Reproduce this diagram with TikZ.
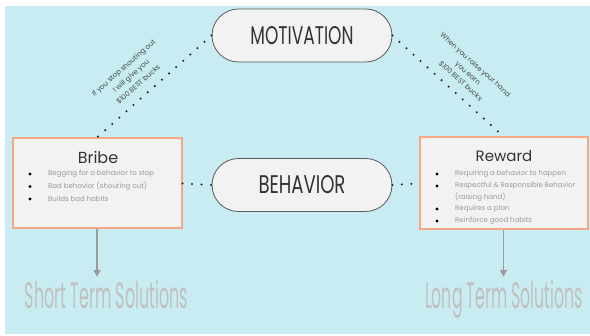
\documentclass[tikz,border=0pt]{standalone}
\usepackage{fontspec}
\setmainfont{Poppins}
\usetikzlibrary{shapes.misc,arrows.meta}
\definecolor{bg}{HTML}{C8ECF1}
\definecolor{boxfill}{HTML}{F2F2F2}
\definecolor{boxedge}{HTML}{F4A886}
\definecolor{pilledge}{HTML}{5A5A5A}
\definecolor{bultext}{HTML}{9A9A9A}
\definecolor{bigtext}{HTML}{C0C0C0}
\definecolor{arrowc}{HTML}{9B9B9B}
\definecolor{labtext}{HTML}{4A4A4A}
\begin{document}
\begin{tikzpicture}[x=1pt,y=-1pt,
 pill/.style={rounded rectangle, draw=pilledge, line width=0.8pt, fill=boxfill, minimum width=180pt, minimum height=53pt, inner sep=0pt, text=black!80},
 card/.style={rectangle, draw=boxedge, line width=2pt, fill=boxfill, inner sep=0pt},
 dots/.style={line width=2.3pt, line cap=round, dash pattern=on 0pt off 9.5pt, black!85},
 bul/.style={circle, fill=black, inner sep=0pt, minimum size=3.3pt},
 btxt/.style={anchor=west, text=bultext, font=\fontsize{7}{8}\selectfont, inner sep=0pt},
 ttl/.style={text=black!80, inner sep=0pt},
 lab/.style={text=labtext, font=\fontsize{7}{11}\selectfont, align=center, inner sep=0pt},
 big/.style={text=bigtext, inner sep=0pt, anchor=base},
 arr/.style={arrowc, line width=1.8pt, -{Triangle[length=7pt,width=7pt]}, shorten >=4pt}
]
\useasboundingbox (0,0) rectangle (590,336);
\fill[white] (0,0) rectangle (590,336);
\fill[bg] (5,6) rectangle (590,334);

% cards
\node[card, minimum width=169pt, minimum height=90pt] (bribe) at (97,183.5) {};
\node[card, minimum width=168pt, minimum height=92pt] (reward) at (503.5,183.5) {};

% pills
\node[pill] (mot) at (302,35.5) {\resizebox{103pt}{18pt}{MOTIVATION}};
\node[pill] (beh) at (302,185) {\resizebox{87pt}{18pt}{BEHAVIOR}};

% dotted connectors
\draw[dots] (mot.west) -- (bribe.north);
\draw[dots] (mot.east) -- (reward.north);
\draw[dots] (bribe.east) -- (beh.west);
\draw[dots] (beh.east) -- (reward.west);

% titles
\node[ttl, font=\fontsize{16}{18}\selectfont] (bribet) at (98,157) {Bribe};
\node[ttl, font=\fontsize{15}{18}\selectfont] (rewardt) at (504,156) {Reward};

% bribe bullets
\node[bul] (bb1) at (30,174) {};
\node[btxt] (bt1) at (48,174) {Begging for a behavior to stop};
\node[bul] (bb2) at (30,186.5) {};
\node[btxt] (bt2) at (48,186.5) {Bad behavior (shouting out)};
\node[bul] (bb3) at (30,199) {};
\node[btxt] (bt3) at (48,199) {Builds bad habits};

% reward bullets
\node[bul] (rb1) at (437,174) {};
\node[btxt] (rt1) at (455,174) {Requiring a behavior to happen};
\node[bul] (rb2) at (437,186) {};
\node[btxt] (rt2) at (455,186) {Respectful \& Responsible Behavior};
\node[btxt] (rt3) at (455,197.5) {(raising hand)};
\node[bul] (rb4) at (437,209) {};
\node[btxt] (rt4) at (455,209) {Requires a plan};
\node[bul] (rb5) at (437,221) {};
\node[btxt] (rt5) at (455,221) {Reinforce good habits};

% diagonal labels
\node[lab, rotate=41.5] (lbl1) at (131,76) {If you stop shouting out\\I will give you\\\$100 BEST bucks};
\node[lab, rotate=-42] (lbl2) at (468,73) {When you raise your hand\\you earn\\\$100 BEST bucks};

% outcomes
\node[big] (short) at (106.5,309) {\resizebox{163pt}{28pt}{Short Term Solutions}};
\node[big] (long) at (504,309) {\resizebox{158pt}{28pt}{Long Term Solutions}};

\draw[arr] (bribe.south) -- (bribe.south |- short.north);
\draw[arr] (reward.south) -- (reward.south |- long.north);
\end{tikzpicture}
\end{document}
